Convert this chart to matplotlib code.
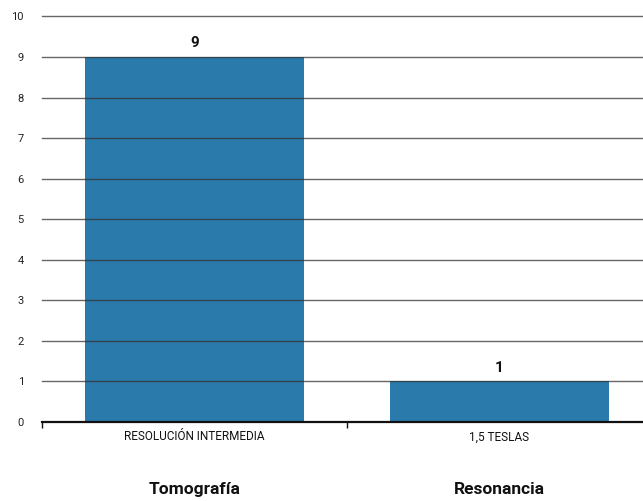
import matplotlib
matplotlib.use("Agg")
import matplotlib.pyplot as plt

categories = ["RESOLUCIÓN INTERMEDIA", "1,5 TESLAS"]
groups = ["Tomografía", "Resonancia"]
values = [9, 1]
yticks = list(range(0, 11))

plt.rcParams['font.family'] = ['Roboto', 'DejaVu Sans']

fig = plt.figure(figsize=(6.43, 5.01), dpi=100)
ax = fig.add_axes([42 / 643, 1 - 422 / 501, (652 - 42) / 643, (422 - 16.5) / 501])

x = list(range(len(categories)))
ax.bar(x, values, width=0.715, color="#2a7aab", zorder=2)
for xi, v in zip(x, values):
    ax.annotate(str(v), xy=(xi, v), xytext=(0, 5), textcoords="offset points",
                ha="center", va="bottom", fontsize=11, fontweight="bold",
                color="#111111", zorder=4)

ax.set_xlim(-0.5, len(categories) - 0.5)
ax.set_ylim(0, 10)
ax.set_yticks(yticks)
ax.set_yticklabels([str(t) for t in yticks], fontsize=8, color="#222222")
ax.tick_params(axis="y", length=0, pad=13)
for t in yticks[1:]:
    ax.axhline(t, color="#333333", lw=1.0, alpha=0.75, zorder=3, clip_on=False)

ax.set_xticks(x)
ax.set_xticklabels(categories, fontsize=8.5, color="#111111")
ax.tick_params(axis="x", length=0, pad=6)
ax.set_xticks([-0.5, 0.5, 1.5], minor=True)
ax.tick_params(axis="x", which="minor", length=4, width=1, direction="out", color="#111111")

for s in ["top", "right", "left"]:
    ax.spines[s].set_visible(False)
ax.spines["bottom"].set_color("#111111")
ax.spines["bottom"].set_linewidth(1.6)
ax.spines["bottom"].set_zorder(4)

for xi, g in zip(x, groups):
    ax.annotate(g, xy=(xi, 0), xycoords=("data", "axes fraction"),
                xytext=(0, -48.5), textcoords="offset points",
                ha="center", va="center", fontsize=12.5, fontweight="bold", color="#111111")

fig.savefig("out.png", dpi=100)
